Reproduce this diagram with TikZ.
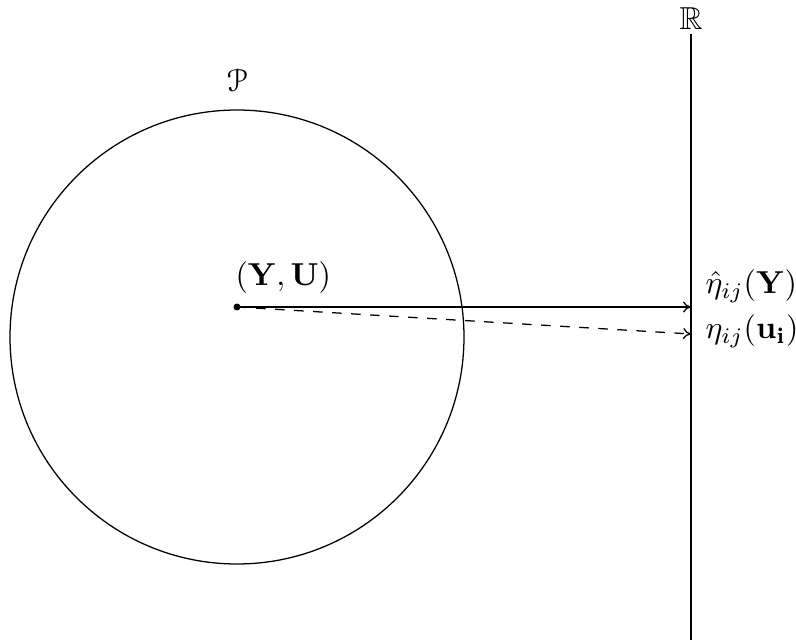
\documentclass[tikz,border=0pt]{standalone}
\usepackage{amsmath,amssymb}
\usepackage[mathcal]{eucal}
\usetikzlibrary{arrows.meta}
\begin{document}
\begin{tikzpicture}[x=0.315pt,y=-0.315pt,
  conn/.style={-{To[length=2.5pt,width=3.5pt]}, line width=0.4pt},
  lbl/.style={inner sep=0pt}]
\useasboundingbox (0,0) rectangle (796,640);
\node[draw, circle, minimum size=454*0.315pt, inner sep=0pt, line width=0.4pt] (P) at (237,337) {};
\node[lbl] (Plbl) at (237,80) {$\mathcal{P}$};
\fill (237,307) circle (1.1pt);
\coordinate (YU) at (237,307);
\node[lbl, anchor=south west] (YUlbl) at (235,294) {$(\mathbf{Y},\mathbf{U})$};
\coordinate (Rtop) at (691,34);
\coordinate (Rbot) at (691,640);
\draw[line width=0.4pt] (Rtop) -- (Rbot);
\node[lbl] (Rlbl) at (691,19) {$\mathbb{R}$};
\coordinate (E1) at (691,307);
\coordinate (E2) at (691,334);
\draw[conn] (YU) -- (E1);
\draw[conn, dashed] (YU) -- (E2);
\node[lbl, anchor=west] (e1) at (705,286) {$\hat{\eta}_{ij}(\mathbf{Y})$};
\node[lbl, anchor=west] (e2) at (705,331) {$\eta_{ij}(\mathbf{u_i})$};
\end{tikzpicture}
\end{document}
